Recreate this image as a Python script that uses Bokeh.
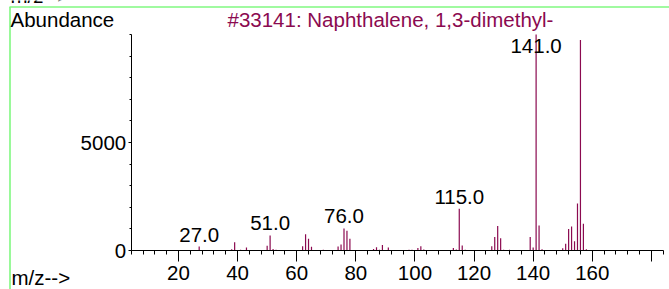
import numpy as np
from bokeh.plotting import figure
from bokeh.models import FixedTicker, Range1d
from bokeh.core.properties import value
from bokeh.embed import file_html
from bokeh.resources import INLINE

# ---- data ----
TITLE = "#33141: Naphthalene, 1,3-dimethyl-"
Y_TITLE = "Abundance"
X_TITLE = "m/z-->"

MZ = [27, 38, 39, 41, 43, 50, 51, 52, 53, 62, 63, 64, 65, 67, 69,
      74, 75, 76, 77, 78, 86, 87, 88, 89, 91, 98, 99, 101, 102, 103,
      113, 114, 115, 116, 117, 126, 127, 128, 129, 130, 132,
      139, 140, 141, 142, 143, 150, 151, 152, 153, 154, 155, 156, 157, 158]
ABUNDANCE = [185, 60, 385, 40, 140, 215, 695, 75, 40, 200, 755, 540, 170, 25, 35,
             185, 280, 1020, 910, 540, 75, 155, 30, 255, 140, 30, 30, 110, 200, 50,
             120, 50, 1930, 230, 30, 200, 630, 1140, 570, 30, 40,
             630, 140, 10000, 1155, 60, 105, 310, 990, 1110, 430, 2180, 9750, 1235, 60]
LABELED_MZ = [27, 51, 76, 115, 141]

X_MAJOR = [20, 40, 60, 80, 100, 120, 140, 160, 180]
X_LABELS = ["20", "40", "60", "80", "100", "120", "140", "160", ""]
X_MINOR = list(range(4, 185, 4))
X_BOUNDS = (4, 184)
Y_MAJOR = [0, 5000]
Y_MINOR = list(range(0, 10001, 1000))
Y_BOUNDS = (0, 10000)

# ---- layout / styles ----
W, H = 669, 289
FONT = "Liberation Sans"
FS = "20.5px"
PEAK_COLOR = "#8B0A50"
GREEN = "#80F880"
LABEL_CAP = 8900
BASE_FIX = -7.5          # screen-pixel correction of the text baseline

# frame covers the whole canvas; axis span in pixels
AX_LEFT_PX, AX_RIGHT_PX = 130.7, 662.7
AX_TOP_PX, AX_BASE_PX = 34.0, 250.0
ppx = (AX_RIGHT_PX - AX_LEFT_PX) / (X_BOUNDS[1] - X_BOUNDS[0])
ppy = (AX_BASE_PX - AX_TOP_PX) / (Y_BOUNDS[1] - Y_BOUNDS[0])
x_start = X_BOUNDS[0] - AX_LEFT_PX / ppx
x_end = x_start + W / ppx
y_end = Y_BOUNDS[1] + AX_TOP_PX / ppy
y_start = y_end - H / ppy


def px2x(px):
    return x_start + px / ppx


def py2y(py):
    return y_end - py / ppy


p = figure(width=W, height=H, output_backend="svg", toolbar_location=None,
           x_range=Range1d(x_start, x_end), y_range=Range1d(y_start, y_end),
           min_border=0, min_border_left=0, min_border_right=0,
           min_border_top=0, min_border_bottom=0, title=None)
p.outline_line_color = None
p.xgrid.visible = False
p.ygrid.visible = False
p.background_fill_color = "white"
p.border_fill_color = "white"

# green frame lines of the panel
p.segment(x0=[px2x(9), px2x(9.5)], y0=[py2y(6.5), py2y(6.5)],
          x1=[x_end, px2x(9.5)], y1=[py2y(6.5), y_start],
          line_color=GREEN, line_width=1.6)

mz = np.array(MZ, dtype=float)
ab = np.array(ABUNDANCE, dtype=float)
p.segment(x0=mz, y0=np.zeros_like(ab), x1=mz, y1=ab, line_color=PEAK_COLOR, line_width=1.2)

TXT = dict(text_font=value(FONT), text_font_size=FS, text_line_height=1.0,
           text_baseline="alphabetic")

lab_mz = np.array(LABELED_MZ, dtype=float)
lab_h = np.array([ab[MZ.index(m)] for m in LABELED_MZ])
p.text(x=lab_mz, y=np.minimum(lab_h, LABEL_CAP), text=[f"{m:.1f}" for m in LABELED_MZ],
       text_align="center", y_offset=-4.5 + BASE_FIX, text_color="black", **TXT)

# header / footer texts
p.text(x=[px2x(10), px2x(11), px2x(10)], y=[py2y(26), py2y(284.5), py2y(2.5)],
       text=[Y_TITLE, X_TITLE, X_TITLE], text_align="left", text_color="black",
       y_offset=BASE_FIX, **TXT)
p.text(x=[px2x(227)], y=[py2y(26.5)], text=[TITLE], text_align="left",
       text_color=PEAK_COLOR, y_offset=BASE_FIX, **TXT)

# x axis pinned at abundance 0
xa = p.xaxis[0]
xa.fixed_location = 0
xa.bounds = X_BOUNDS
xa.ticker = FixedTicker(ticks=X_MAJOR, minor_ticks=X_MINOR)
xa.major_label_overrides = {t: l for t, l in zip(X_MAJOR, X_LABELS)}
xa.major_tick_out = 11
xa.major_tick_in = 0
xa.minor_tick_out = 4
xa.minor_tick_in = 0
xa.major_label_standoff = 4
xa.major_label_text_font = FONT
xa.major_label_text_font_size = FS
xa.major_label_text_color = "black"
xa.axis_line_color = "black"
xa.major_tick_line_color = "black"
xa.minor_tick_line_color = "black"

# y axis pinned at m/z 4
ya = p.yaxis[0]
ya.fixed_location = X_BOUNDS[0]
ya.bounds = Y_BOUNDS
ya.ticker = FixedTicker(ticks=Y_MAJOR, minor_ticks=Y_MINOR)
ya.major_tick_out = 3
ya.major_tick_in = 0
ya.minor_tick_out = 2
ya.minor_tick_in = 0
ya.major_label_standoff = 2
ya.major_label_text_font = FONT
ya.major_label_text_font_size = FS
ya.major_label_text_color = "black"
ya.major_label_orientation = "horizontal"
ya.axis_line_color = "black"
ya.major_tick_line_color = "black"
ya.minor_tick_line_color = "black"

open("out.html", "w").write(file_html(p, INLINE))
